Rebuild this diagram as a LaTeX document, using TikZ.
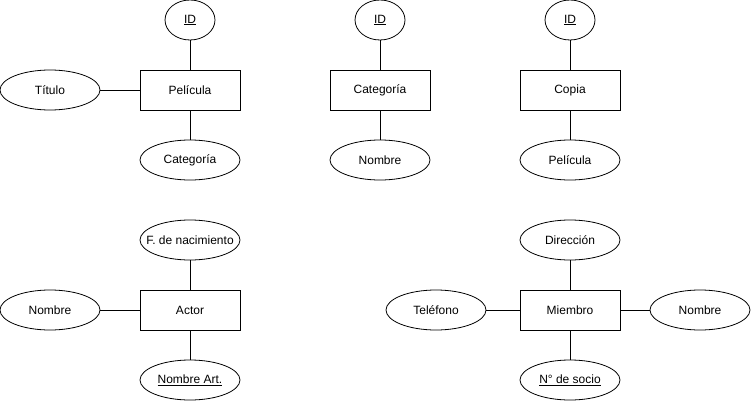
\documentclass[tikz,border=0pt]{standalone}
\usepackage{fontspec}
\setmainfont{Liberation Sans}
\usetikzlibrary{shapes.geometric}

\begin{document}
\begin{tikzpicture}[x=1pt,y=-1pt,line width=0.8pt,
    font=\fontsize{12}{14}\selectfont,
    entity/.style={draw,rectangle,minimum width=100pt,minimum height=40pt,inner sep=0pt},
    attr/.style={draw,ellipse,minimum width=100pt,minimum height=40pt,inner sep=0pt},
    keyattr/.style={attr,minimum width=50pt}]
  \useasboundingbox (0,0) rectangle (751,401);
  % Pelicula
  \node[entity] (peli) at (190,90) {Película};
  \node[keyattr] (peliid) at (190,20) {\underline{ID}};
  \node[attr] (titulo) at (50,90) {Título};
  \node[attr] (pelicat) at (190,160) {Categoría};
  \draw (peliid) -- (peli);
  \draw (titulo) -- (peli);
  \draw (peli) -- (pelicat);
  % Categoria
  \node[entity] (cat) at (380,90) {Categoría};
  \node[keyattr] (catid) at (380,20) {\underline{ID}};
  \node[attr] (catnom) at (380,160) {Nombre};
  \draw (catid) -- (cat);
  \draw (cat) -- (catnom);
  % Copia
  \node[entity] (copia) at (570,90) {Copia};
  \node[keyattr] (copiaid) at (570,20) {\underline{ID}};
  \node[attr] (copiapeli) at (570,160) {Película};
  \draw (copiaid) -- (copia);
  \draw (copia) -- (copiapeli);
  % Actor
  \node[entity] (actor) at (190,310) {Actor};
  \node[attr,inner xsep=-11pt] (fnac) at (190,240) {F. de nacimiento};
  \node[attr] (actnom) at (50,310) {Nombre};
  \node[attr] (actart) at (190,380) {\underline{Nombre Art.}};
  \draw (fnac) -- (actor);
  \draw (actnom) -- (actor);
  \draw (actor) -- (actart);
  % Miembro
  \node[entity] (miembro) at (570,310) {Miembro};
  \node[attr] (dir) at (570,240) {Dirección};
  \node[attr] (tel) at (436,310) {Teléfono};
  \node[attr] (miemnom) at (700,310) {Nombre};
  \node[attr] (socio) at (570,380) {\underline{N° de socio}};
  \draw (dir) -- (miembro);
  \draw (tel) -- (miembro);
  \draw (miembro) -- (miemnom);
  \draw (miembro) -- (socio);
\end{tikzpicture}
\end{document}
